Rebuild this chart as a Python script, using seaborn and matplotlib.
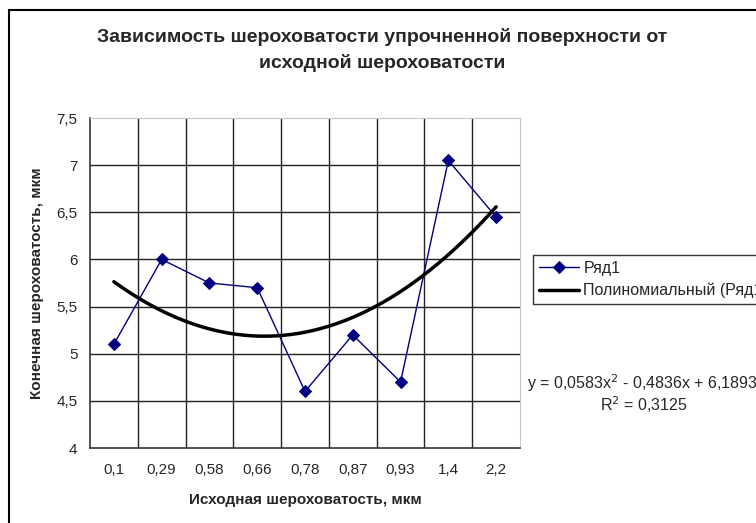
import numpy as np
import pandas as pd
import matplotlib.pyplot as plt
import seaborn as sns
from matplotlib.patches import Rectangle

sns.set_style('white')
plt.rcParams['font.family'] = ['Liberation Sans', 'DejaVu Sans']

# data
categories = ['0,1', '0,29', '0,58', '0,66', '0,78', '0,87', '0,93', '1,4', '2,2']
values = [5.1, 6.0, 5.75, 5.7, 4.6, 5.2, 4.7, 7.05, 6.45]
y_ticks = [4, 4.5, 5, 5.5, 6, 6.5, 7, 7.5]

idx = np.arange(1, len(categories) + 1)
df = pd.DataFrame({'x': idx, 'y': values})

# polynomial trend (order 2), like Excel does on the category index
coef = np.polyfit(idx, values, 2)
xs = np.linspace(1, len(categories), 200)
trend = pd.DataFrame({'x': xs, 'y': np.polyval(coef, xs)})

fig = plt.figure(figsize=(7.56, 5.23), dpi=100)
ax = fig.add_axes([90 / 756, 1 - 448 / 523, 430 / 756, 330 / 523])

# gridlines
for yv in y_ticks[1:-1]:
    ax.axhline(yv, color='#222222', lw=1, zorder=0)
for xv in np.arange(1.5, len(categories), 1):
    ax.axvline(xv, color='#222222', lw=1, zorder=0)

sns.lineplot(data=df, x='x', y='y', ax=ax, color='#000080', lw=1,
             marker='D', markersize=6, markeredgecolor='#000080',
             label='Ряд1', zorder=3)
sns.lineplot(data=trend, x='x', y='y', ax=ax, color='black', lw=2.5,
             label='Полиномиальный (Ряд1)', zorder=4)

ax.set_xlim(0.5, len(categories) + 0.5)
ax.set_ylim(4, 7.5)
ax.set_yticks(y_ticks)
ax.set_yticklabels([str(v).replace('.', ',').replace(',0', '') for v in y_ticks])
ax.set_xticks(idx)
ax.set_xticklabels(categories)
ax.set_xticks(np.arange(0.5, len(categories) + 1, 1), minor=True)
ax.tick_params(axis='x', which='major', length=0, pad=11, labelsize=11)
ax.tick_params(axis='x', which='minor', length=10, direction='inout', width=1, color='#333333')
ax.tick_params(axis='y', length=10, direction='inout', width=1, color='#333333', labelsize=11, pad=4)

for side in ['top', 'right']:
    ax.spines[side].set_color('#c8c8c8')
for side in ['left', 'bottom']:
    ax.spines[side].set_color('#333333')
    ax.spines[side].set_linewidth(1.2)

ax.set_xlabel('Исходная шероховатость, мкм', fontsize=11, fontweight='bold', labelpad=11)
ax.set_ylabel('Конечная шероховатость, мкм', fontsize=11, fontweight='bold', labelpad=9)

fig.text(382 / 756, 1 - 37 / 523, 'Зависимость шероховатости упрочненной поверхности от',
         ha='center', va='center', fontsize=14, fontweight='bold')
fig.text(382 / 756, 1 - 63 / 523, 'исходной шероховатости',
         ha='center', va='center', fontsize=14, fontweight='bold')

leg = ax.legend(loc='upper left', bbox_to_anchor=(533 / 756, 1 - 255 / 523),
                bbox_transform=fig.transFigure, frameon=True, fancybox=False,
                fontsize=11.5, handlelength=2.5, borderpad=0.35, labelspacing=0.45,
                borderaxespad=0, handletextpad=0.3)
leg.get_frame().set_edgecolor('black')
leg.get_frame().set_linewidth(1)

fig.text(527 / 756, 1 - 383 / 523, 'y = 0,0583x$^2$ - 0,4836x + 6,1893',
         ha='left', va='center', fontsize=11.5)
fig.text(644 / 756, 1 - 405 / 523, 'R$^2$ = 0,3125', ha='center', va='center', fontsize=11.5)

# chart area border, cut off at the right and bottom like the original
fig.patches.append(Rectangle((9 / 756, -0.1), 1.2, 1 - 10 / 523 + 0.1,
                             transform=fig.transFigure, fill=False,
                             edgecolor='black', lw=1.5))

fig.savefig('out.png', dpi=100)
